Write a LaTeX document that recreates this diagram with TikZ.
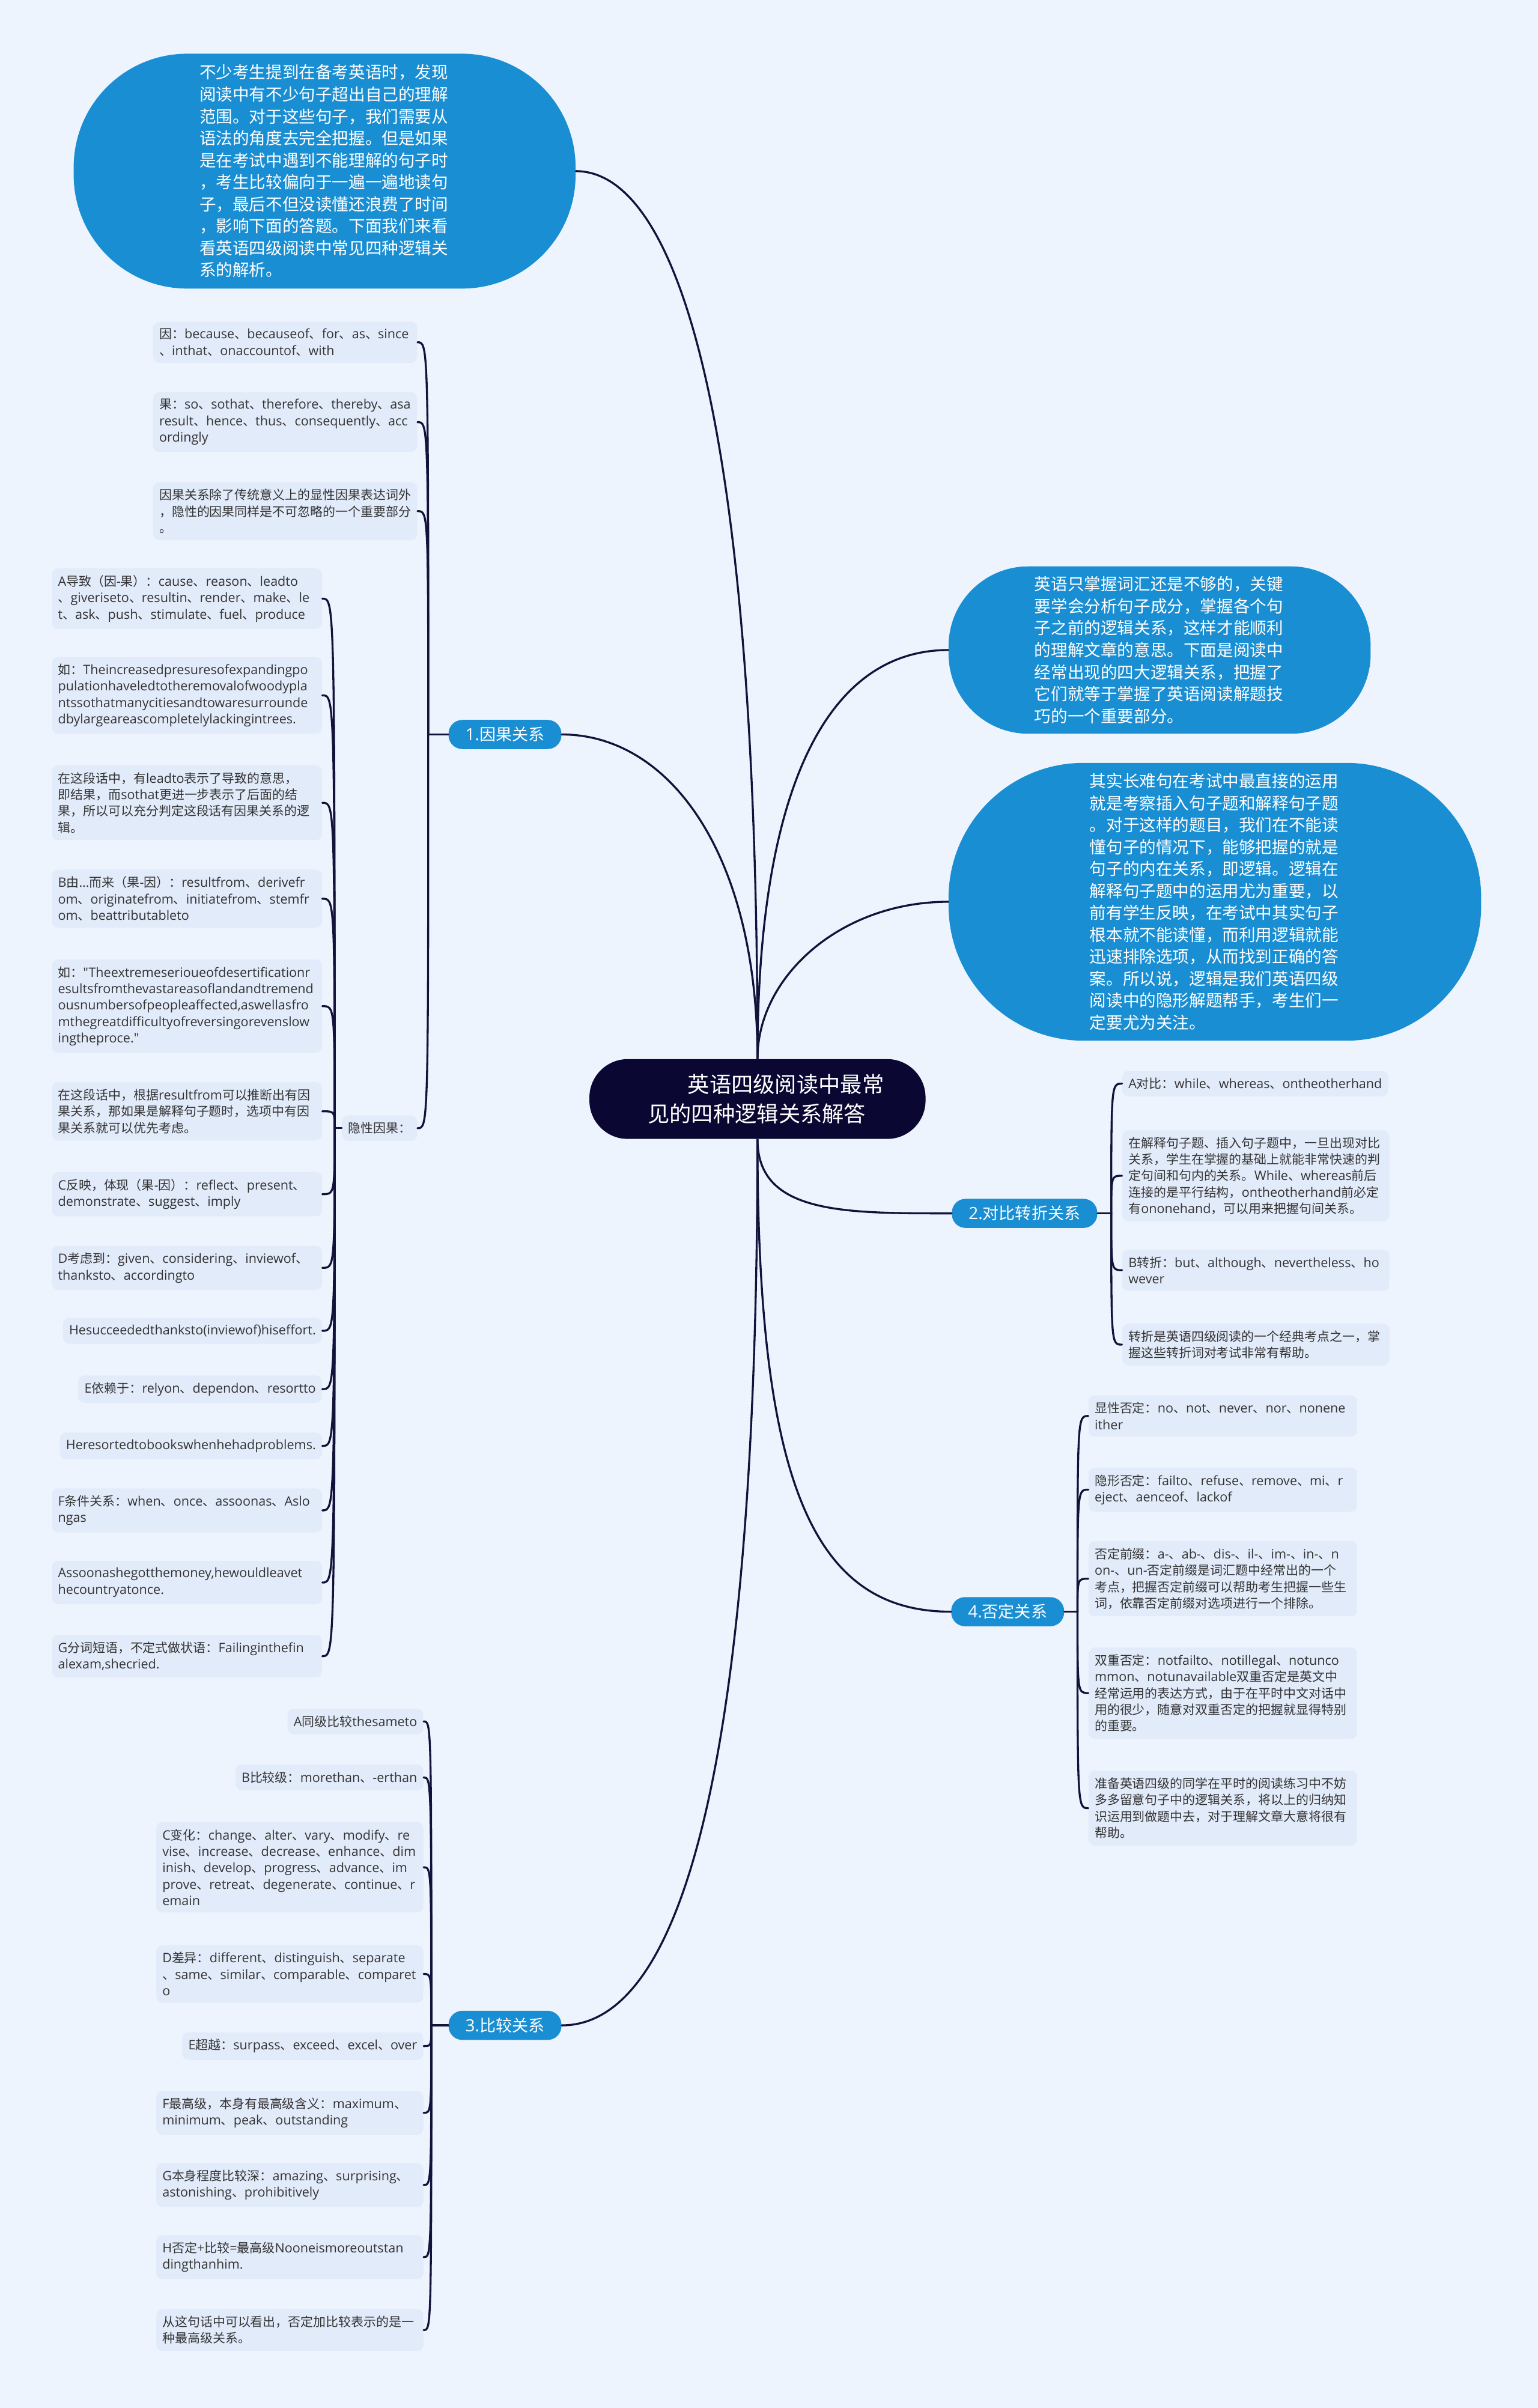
\documentclass[tikz,border=0pt]{standalone}
\usepackage{fontspec}
\setmainfont{Open Sans}[Scale=1.03]
\newfontfamily\latfont{Open Sans}[Scale=1.03]
\newfontfamily\cjkfont{Noto Sans CJK SC}
\XeTeXinterchartokenstate=1
\newXeTeXintercharclass\cjkcls
\newcount\cjkcnt
\cjkcnt="2E80
\loop
  \XeTeXcharclass\cjkcnt=\cjkcls
  \ifnum\cjkcnt<"9FFF \advance\cjkcnt by 1 \repeat
\cjkcnt="FF00
\loop
  \XeTeXcharclass\cjkcnt=\cjkcls
  \ifnum\cjkcnt<"FFEF \advance\cjkcnt by 1 \repeat
\XeTeXinterchartoks 0 \cjkcls = {\cjkfont}
\XeTeXinterchartoks 4095 \cjkcls = {\cjkfont}
\XeTeXinterchartoks \cjkcls 0 = {\latfont}
\XeTeXinterchartoks \cjkcls 4095 = {\latfont}
\hyphenpenalty=10000
\exhyphenpenalty=10000
\setlength{\parindent}{0pt}
\definecolor{bgcol}{HTML}{EEF4FD}
\definecolor{leafcol}{HTML}{E2EBFA}
\definecolor{leaftext}{HTML}{333333}
\definecolor{bubblecol}{HTML}{1A8ED3}
\definecolor{titlecol}{HTML}{0A0833}
\definecolor{linkcol}{HTML}{12123A}

\begin{document}
\begin{tikzpicture}[x=1pt,y=1pt,line cap=round,line join=round,
  link/.style={draw=linkcol,line width=1.3pt},
  bubble/.style={fill=bubblecol,text=white,align=left,inner sep=0pt,
    font=\fontsize{10.8}{14.3}\selectfont},
  titlebox/.style={fill=titlecol,text=white,align=left,rounded corners=25pt,
    minimum width=219pt,minimum height=52pt,font=\fontsize{14.2}{19}\selectfont},
  branch/.style={fill=bubblecol,text=white,rounded corners=9pt,minimum height=19pt,
    inner xsep=11pt,inner ysep=0pt,font=\fontsize{10.6}{12}\selectfont},
  leaf/.style={fill=leafcol,text=leaftext,rounded corners=4pt,inner xsep=4pt,
    inner ysep=4.5pt,align=left,font=\fontsize{8.2}{10.7}\selectfont},
  causebox/.style={leaf,anchor=east,text width=164pt},
  hidbox/.style={leaf,anchor=east,text width=168pt},
  cmpbox/.style={leaf,anchor=east,text width=166pt},
  conbox/.style={leaf,anchor=west,text width=166pt},
  negbox/.style={leaf,anchor=west,text width=167pt}]
  \useasboundingbox (0,0) rectangle (1002,-1568.8);
  \fill[bgcol] (0,0) rectangle (1002,-1568.8);

  \node[titlebox] (title) at (493.5,-716) {\hspace*{37pt}英语四级阅读中最常\\\hspace*{11pt}见的四种逻辑关系解答};

  \node[bubble,minimum width=327pt,minimum height=153pt,rounded corners=74pt,text width=163pt] (intro) at (211.5,-111.5)
    {不少考生提到在备考英语时，发现\\阅读中有不少句子超出自己的理解\\范围。对于这些句子，我们需要从\\语法的角度去完全把握。但是如果\\是在考试中遇到不能理解的句子时\\，考生比较偏向于一遍一遍地读句\\子，最后不但没读懂还浪费了时间\\，影响下面的答题。下面我们来看\\看英语四级阅读中常见四种逻辑关\\系的解析。};
  \node[bubble,minimum width=275pt,minimum height=109pt,rounded corners=52pt,text width=163pt] (vocab) at (755.5,-423.5)
    {英语只掌握词汇还是不够的，关键\\要学会分析句子成分，掌握各个句\\子之前的逻辑关系，这样才能顺利\\的理解文章的意思。下面是阅读中\\经常出现的四大逻辑关系，把握了\\它们就等于掌握了英语阅读解题技\\巧的一个重要部分。};
  \node[bubble,minimum width=347pt,minimum height=181pt,rounded corners=88pt,text width=163pt] (longsent) at (791.5,-587.5)
    {其实长难句在考试中最直接的运用\\就是考察插入句子题和解释句子题\\。对于这样的题目，我们在不能读\\懂句子的情况下，能够把握的就是\\句子的内在关系，即逻辑。逻辑在\\解释句子题中的运用尤为重要，以\\前有学生反映，在考试中其实句子\\根本就不能读懂，而利用逻辑就能\\迅速排除选项，从而找到正确的答\\案。所以说，逻辑是我们英语四级\\阅读中的隐形解题帮手，考生们一\\定要尤为关注。};

  \node[branch] (cause) at (329,-478.5) {1.因果关系};
  \node[branch] (contrast) at (667.5,-790.5) {2.对比转折关系};
  \node[branch] (negate) at (656.5,-1050) {4.否定关系};
  \node[branch] (compare) at (329,-1319.5) {3.比较关系};

  \node[causebox] (ca) at (272,-223) {因：because、becauseof、for、as、since\\、inthat、onaccountof、with};
  \node[causebox] (cb) at (272,-275) {果：so、sothat、therefore、thereby、asa\\result、hence、thus、consequently、acc\\ordingly};
  \node[causebox] (cc) at (272,-333) {因果关系除了传统意义上的显性因果表达词外\\，隐性的因果同样是不可忽略的一个重要部分\\。};
  \node[leaf,anchor=east] (hid) at (272,-735) {隐性因果：};

  \node[hidbox] (h1) at (210,-390) {A导致（因-果）：cause、reason、leadto\\、giveriseto、resultin、render、make、le\\t、ask、push、stimulate、fuel、produce};
  \node[hidbox] (h2) at (210,-453) {如：Theincreasedpresuresofexpandingpo\\pulationhaveledtotheremovalofwoodypla\\ntssothatmanycitiesandtowaresurrounde\\dbylargeareascompletelylackingintrees.};
  \node[hidbox] (h3) at (210,-523) {在这段话中，有leadto表示了导致的意思，\\即结果，而sothat更进一步表示了后面的结\\果，所以可以充分判定这段话有因果关系的逻\\辑。};
  \node[hidbox] (h4) at (210,-585.5) {B由...而来（果-因）：resultfrom、derivefr\\om、originatefrom、initiatefrom、stemfr\\om、beattributableto};
  \node[hidbox] (h5) at (210,-655.5) {如："Theextremeserioueofdesertificationr\\esultsfromthevastareasoflandandtremend\\ousnumbersofpeopleaffected,aswellasfro\\mthegreatdifficultyofreversingorevenslow\\ingtheproce."};
  \node[hidbox] (h6) at (210,-724) {在这段话中，根据resultfrom可以推断出有因\\果关系，那如果是解释句子题时，选项中有因\\果关系就可以优先考虑。};
  \node[hidbox] (h7) at (210,-778) {C反映，体现（果-因）：reflect、present、\\demonstrate、suggest、imply};
  \node[hidbox] (h8) at (210,-826) {D考虑到：given、considering、inviewof、\\thanksto、accordingto};
  \node[leaf,anchor=east] (h9) at (210,-867) {Hesucceededthanksto(inviewof)hiseffort.};
  \node[leaf,anchor=east] (h10) at (210,-905) {E依赖于：relyon、dependon、resortto};
  \node[leaf,anchor=east] (h11) at (210,-942) {Heresortedtobookswhenhehadproblems.};
  \node[hidbox] (h12) at (210,-984) {F条件关系：when、once、assoonas、Aslo\\ngas};
  \node[hidbox] (h13) at (210,-1031) {Assoonashegotthemoney,hewouldleavet\\hecountryatonce.};
  \node[hidbox] (h14) at (210,-1079) {G分词短语，不定式做状语：Failinginthefin\\alexam,shecried.};

  \node[leaf,anchor=west] (t1) at (731,-706) {A对比：while、whereas、ontheotherhand};
  \node[conbox] (t2) at (731,-766) {在解释句子题、插入句子题中，一旦出现对比\\关系，学生在掌握的基础上就能非常快速的判\\定句间和句内的关系。While、whereas前后\\连接的是平行结构，ontheotherhand前必定\\有ononehand，可以用来把握句间关系。};
  \node[conbox] (t3) at (731,-827.5) {B转折：but、although、nevertheless、ho\\wever};
  \node[conbox] (t4) at (731,-876) {转折是英语四级阅读的一个经典考点之一，掌\\握这些转折词对考试非常有帮助。};

  \node[negbox] (n1) at (709,-922.5) {显性否定：no、not、never、nor、nonene\\ither};
  \node[negbox] (n2) at (709,-970.5) {隐形否定：failto、refuse、remove、mi、r\\eject、aenceof、lackof};
  \node[negbox] (n3) at (709,-1028.5) {否定前缀：a-、ab-、dis-、il-、im-、in-、n\\on-、un-否定前缀是词汇题中经常出的一个\\考点，把握否定前缀可以帮助考生把握一些生\\词，依靠否定前缀对选项进行一个排除。};
  \node[negbox] (n4) at (709,-1103) {双重否定：notfailto、notillegal、notunco\\mmon、notunavailable双重否定是英文中\\经常运用的表达方式，由于在平时中文对话中\\用的很少，随意对双重否定的把握就显得特别\\的重要。};
  \node[negbox] (n5) at (709,-1178) {准备英语四级的同学在平时的阅读练习中不妨\\多多留意句子中的逻辑关系，将以上的归纳知\\识运用到做题中去，对于理解文章大意将很有\\帮助。};

  \node[leaf,anchor=east] (g1) at (276,-1121.5) {A同级比较thesameto};
  \node[leaf,anchor=east] (g2) at (276,-1158) {B比较级：morethan、-erthan};
  \node[cmpbox] (g3) at (276,-1216.5) {C变化：change、alter、vary、modify、re\\vise、increase、decrease、enhance、dim\\inish、develop、progress、advance、im\\prove、retreat、degenerate、continue、r\\emain};
  \node[cmpbox] (g4) at (276,-1286) {D差异：different、distinguish、separate\\、same、similar、comparable、comparet\\o};
  \node[leaf,anchor=east] (g5) at (276,-1333) {E超越：surpass、exceed、excel、over};
  \node[cmpbox] (g6) at (276,-1376.5) {F最高级，本身有最高级含义：maximum、\\minimum、peak、outstanding};
  \node[cmpbox] (g7) at (276,-1423.5) {G本身程度比较深：amazing、surprising、\\astonishing、prohibitively};
  \node[cmpbox] (g8) at (276,-1470.5) {H否定+比较=最高级Nooneismoreoutstan\\dingthanhim.};
  \node[cmpbox] (g9) at (276,-1518) {从这句话中可以看出，否定加比较表示的是一\\种最高级关系。};

  \coordinate (jc) at (279,-478.5);
  \coordinate (jh) at (218,-735);
  \coordinate (jt) at (724,-790.5);
  \coordinate (jn) at (702,-1050);
  \coordinate (jm) at (281,-1319.5);

  \draw[link] (title) .. controls +(0,470) and +(60,0) .. (intro.east);
  \draw[link] (title) .. controls +(0,160) and +(70,0) .. (cause.east);
  \draw[link] (title) .. controls +(0,200) and +(-80,0) .. (vocab.west);
  \draw[link] (title) .. controls +(0,80) and +(-70,0) .. (longsent.west);
  \draw[link] (title) .. controls +(0,-75) and +(-70,0) .. (contrast.west);
  \draw[link] (title) .. controls +(0,-250) and +(-90,0) .. (negate.west);
  \draw[link] (title) .. controls +(0,-380) and +(90,0) .. (compare.east);

  \draw[link] (cause.west) -- (jc);
  \foreach \n in {ca,cb,cc,hid}
    \draw[link] (jc) .. controls (jc |- \n.east) .. (\n.east);
  \draw[link] (hid.west) -- (jh);
  \foreach \i in {1,...,14}
    \draw[link] (jh) .. controls (jh |- h\i.east) .. (h\i.east);
  \draw[link] (contrast.east) -- (jt);
  \foreach \i in {1,...,4}
    \draw[link] (jt) .. controls (jt |- t\i.west) .. (t\i.west);
  \draw[link] (negate.east) -- (jn);
  \foreach \i in {1,...,5}
    \draw[link] (jn) .. controls (jn |- n\i.west) .. (n\i.west);
  \draw[link] (compare.west) -- (jm);
  \foreach \i in {1,...,9}
    \draw[link] (jm) .. controls (jm |- g\i.east) .. (g\i.east);
\end{tikzpicture}
\end{document}
